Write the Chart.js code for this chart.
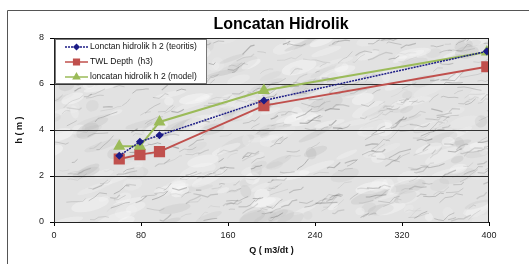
<!DOCTYPE html>
<html>
<head>
<meta charset="utf-8">
<script src="https://cdn.jsdelivr.net/npm/chart.js@4"></script>
<style>
  html, body { margin: 0; padding: 0; background: #fff; }
  #wrap { width: 529px; height: 264px; }
</style>
</head>
<body>
<div id="wrap"><canvas id="chart" width="529" height="264"></canvas></div>
<script>
// data
const debitQ = [60, 79, 97, 193, 398];
const h2Teoritis = [2.88, 3.49, 3.77, 5.28, 7.42];
const twlDepth = [2.74, 2.93, 3.06, 5.06, 6.75];
const h2Model = [3.29, 3.29, 4.35, 5.72, 7.39];
const seriesLabels = ['Lonctan hidrolik h 2 (teoritis)', 'TWL Depth  (h3)', 'loncatan hidrolik h 2 (model)'];
const xTicks = [0, 80, 160, 240, 320, 400];
const yTicks = [0, 2, 4, 6, 8];

const FONT = '"Liberation Sans", Arial, sans-serif';

function toPoints(ys) {
  return debitQ.map((q, i) => ({ x: q, y: ys[i] }));
}

// marble-ish texture for the plot background (decoration only)
function makeMarble(w, h) {
  const c = document.createElement('canvas');
  c.width = w; c.height = h;
  const g = c.getContext('2d');
  g.fillStyle = '#e2e2e2';
  g.fillRect(0, 0, w, h);
  const hash = n => { const s = Math.sin(n * 12.9898) * 43758.5453; return s - Math.floor(s); };
  // soft light and dark blotches
  for (let i = 0; i < 260; i++) {
    const light = hash(i + 3) > 0.4;
    g.fillStyle = light ? 'rgba(250,250,250,' + (0.15 + hash(i + 1) * 0.3) + ')'
                        : 'rgba(170,170,170,' + (0.08 + hash(i + 1) * 0.15) + ')';
    g.beginPath();
    g.ellipse(hash(i + 7) * w, hash(i + 13) * h, 4 + hash(i + 19) * 16, 2 + hash(i + 23) * 5,
      -0.45 + hash(i + 29) * 0.3, 0, Math.PI * 2);
    g.fill();
  }
  // thin veins
  for (let i = 0; i < 420; i++) {
    let x = hash(i + 101) * w, y = hash(i + 211) * h;
    g.strokeStyle = 'rgba(100,100,100,' + (0.12 + hash(i + 503) * 0.3) + ')';
    g.lineWidth = 0.5 + hash(i + 601) * 0.8;
    g.beginPath();
    g.moveTo(x, y);
    const segs = 2 + Math.floor(hash(i + 701) * 3);
    for (let k = 0; k < segs; k++) {
      const ang = -0.9 + hash(i * 7 + k + 401) * 1.2;
      const len = 2 + hash(i * 5 + k + 307) * 6;
      x += Math.cos(ang) * len; y += Math.sin(ang) * len;
      g.lineTo(x, y);
    }
    g.stroke();
  }
  return c;
}

const decorPlugin = {
  id: 'decor',
  beforeDraw(chart) {
    const { ctx, chartArea: a } = chart;
    ctx.save();
    // outer frame
    ctx.strokeStyle = '#555';
    ctx.lineWidth = 1;
    ctx.beginPath();
    ctx.moveTo(7.5, 264);
    ctx.lineTo(7.5, 10.5);
    ctx.lineTo(529, 10.5);
    ctx.stroke();
    // plot background
    ctx.drawImage(makeMarble(a.right - a.left, a.bottom - a.top), a.left, a.top);
    // title
    ctx.fillStyle = '#000';
    ctx.font = 'bold 16px ' + FONT;
    ctx.textAlign = 'center';
    ctx.textBaseline = 'middle';
    ctx.fillText('Loncatan Hidrolik', 281, 25);
    ctx.restore();
  },
  afterDatasetsDraw(chart) {
    const { ctx, chartArea: a } = chart;
    ctx.save();
    // plot border
    ctx.strokeStyle = '#222';
    ctx.lineWidth = 1;
    ctx.strokeRect(a.left + 0.5, a.top + 0.5, a.right - a.left - 1, a.bottom - a.top);
    // legend box
    const bx = a.left + 1, by = a.top + 1, bw = 152, bh = 45;
    ctx.fillStyle = '#fff';
    ctx.fillRect(bx, by, bw, bh);
    ctx.strokeStyle = '#777';
    ctx.strokeRect(bx + 0.5, by + 0.5, bw - 1, bh - 1);
    ctx.font = '8.5px ' + FONT;
    ctx.textBaseline = 'middle';
    chart.data.datasets.forEach((ds, i) => {
      const y = by + 8 + i * 15;
      ctx.strokeStyle = ds.borderColor;
      ctx.lineWidth = 1.5;
      ctx.setLineDash(ds.borderDash || []);
      ctx.beginPath();
      ctx.moveTo(bx + 10, y);
      ctx.lineTo(bx + 33, y);
      ctx.stroke();
      ctx.setLineDash([]);
      ctx.fillStyle = ds.pointBackgroundColor;
      ctx.strokeStyle = ds.pointBackgroundColor;
      Chart.helpers.drawPoint(ctx, {
        pointStyle: ds.pointStyle, radius: ds.legendRadius, borderWidth: 1
      }, bx + 21.5, y);
      ctx.fillStyle = '#111';
      ctx.textAlign = 'left';
      ctx.fillText(ds.label, bx + 35, y);
    });
    ctx.restore();
  }
};

const ctx = document.getElementById('chart').getContext('2d');
new Chart(ctx, {
  type: 'scatter',
  data: {
    datasets: [{
      label: seriesLabels[0],
      data: toPoints(h2Teoritis),
      showLine: true,
      borderColor: '#1c1c86',
      borderWidth: 1.5,
      borderDash: [2, 1],
      pointStyle: 'rectRot',
      pointRadius: 3,
      legendRadius: 2.5,
      pointBackgroundColor: '#1c1c86',
      pointBorderColor: '#1c1c86',
      order: 1
    }, {
      label: seriesLabels[1],
      data: toPoints(twlDepth),
      showLine: true,
      borderColor: '#c0504d',
      borderWidth: 2,
      pointStyle: 'rect',
      pointRadius: 6.5,
      legendRadius: 4,
      pointBackgroundColor: '#c0504d',
      pointBorderColor: '#c0504d',
      order: 3
    }, {
      label: seriesLabels[2],
      data: toPoints(h2Model),
      showLine: true,
      borderColor: '#9bbb59',
      borderWidth: 2,
      pointStyle: 'triangle',
      pointRadius: 5,
      legendRadius: 3.5,
      pointBackgroundColor: '#9bbb59',
      pointBorderColor: '#9bbb59',
      order: 2
    }]
  },
  options: {
    responsive: false,
    animation: false,
    layout: { padding: { top: 38, right: 40, left: 0, bottom: 0 } },
    plugins: {
      legend: { display: false },
      title: { display: false },
      tooltip: { enabled: false }
    },
    scales: {
      x: {
        type: 'linear',
        min: 0,
        max: 400,
        afterFit: s => { s.height = 42; },
        afterBuildTicks: s => { s.ticks = xTicks.map(v => ({ value: v })); },
        grid: { drawOnChartArea: false, drawTicks: true, tickLength: 4, tickColor: '#000' },
        border: { color: '#000', width: 1 },
        ticks: { padding: 4, color: '#222', font: { family: FONT, size: 9 } },
        title: {
          display: true,
          text: 'Q ( m3/dt )',
          color: '#111',
          font: { family: FONT, size: 9, weight: 'bold' },
          padding: { top: 0, bottom: 8 }
        }
      },
      y: {
        min: 0,
        max: 8,
        afterFit: s => { s.width = 54; },
        afterBuildTicks: s => { s.ticks = yTicks.map(v => ({ value: v })); },
        grid: { color: '#333', lineWidth: 1, drawTicks: true, tickLength: 4, tickColor: '#000' },
        border: { color: '#000', width: 1 },
        ticks: { padding: 6, color: '#222', font: { family: FONT, size: 9 } },
        title: {
          display: true,
          text: 'h ( m )',
          color: '#111',
          font: { family: FONT, size: 9, weight: 'bold' },
          padding: { top: 14, bottom: 0 }
        }
      }
    }
  },
  plugins: [decorPlugin]
});
</script>
</body>
</html>
